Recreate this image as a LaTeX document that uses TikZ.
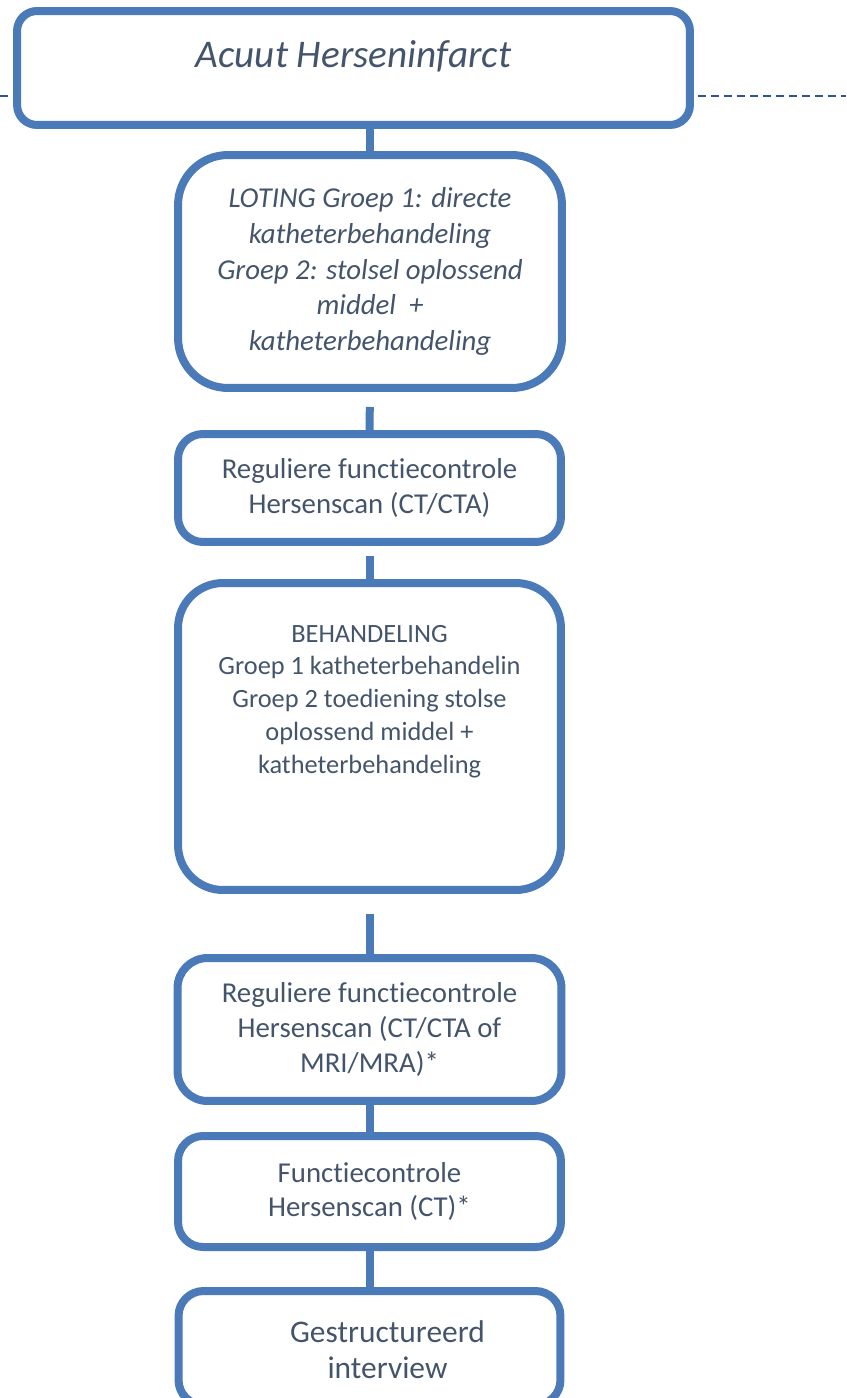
\documentclass[tikz,border=0pt]{standalone}
\usepackage{fontspec}
\setmainfont[Ligatures={NoCommon}]{Carlito}
\usepackage{tikz}
\usepackage{xcolor}
\definecolor{kaderblauw}{RGB}{74,122,183}
\definecolor{stippelblauw}{RGB}{47,84,150}
\definecolor{tekstgrijs}{RGB}{68,84,106}

\begin{document}
\begin{tikzpicture}[x=0.02cm,y=-0.02cm,
  blok/.style={draw=kaderblauw,line width=0.16cm,rectangle,minimum width=7.66cm,
    inner sep=0pt,align=center,text=tekstgrijs},
  gewoon/.style={font=\fontsize{16.4}{19.8}\selectfont},
  schuin/.style={font=\fontsize{16.4}{20.4}\selectfont\itshape},
  opschrift/.style={text=tekstgrijs,align=center},
  lijn/.style={draw=kaderblauw,line width=0.16cm},
  stippel/.style={draw=stippelblauw,line width=0.05cm,dash pattern=on 0.16cm off 0.1cm}]
  \path[use as bounding box,clip] (0,0) rectangle (846,1398);

  \node (ah) [blok,minimum width=13.46cm,minimum height=2.28cm,rounded corners=0.4cm,
    label={[opschrift,font=\fontsize{22.3}{26}\selectfont\itshape,yshift=0.24cm]center:Acuut Herseninfarct}]
    at (353.5,68) {};
  \node (lot) [blok,schuin,minimum width=7.68cm,minimum height=4.66cm,rounded corners=1cm]
    at (370,271.5)
    {LOTING Groep 1: directe\\katheterbehandeling\\Groep 2: stolsel oplossend\\middel\ \ +\\katheterbehandeling};
  \node (rf1) [blok,gewoon,minimum height=2.16cm,rounded corners=0.5cm]
    at (369.5,488) {Reguliere functiecontrole\\Hersenscan (CT/CTA)};
  \node (beh) [blok,minimum height=6.14cm,rounded corners=0.9cm,
    label={[opschrift,font=\fontsize{15}{18.7}\selectfont,yshift=0.7cm]center:{BEHANDELING\\Groep 1 katheterbehandelin\\Groep 2 toediening stolse\\oplossend middel +\\katheterbehandeling}}]
    at (369.5,736.5) {};
  \node (rf2) [blok,gewoon,minimum width=7.68cm,minimum height=2.86cm,rounded corners=0.6cm]
    at (369.5,1029.5) {Reguliere functiecontrole\\Hersenscan (CT/CTA of\\MRI/MRA)*};
  \node (fc) [blok,gewoon,minimum height=2.22cm,rounded corners=0.5cm]
    at (369.5,1191.5) {Functiecontrole\\Hersenscan (CT)*};
  \node (gi) [blok,minimum width=7.64cm,minimum height=2.28cm,rounded corners=0.5cm,
    label={[opschrift,font=\fontsize{17.9}{20.4}\selectfont,xshift=0.36cm,yshift=-0.04cm]center:{Gestructureerd\\interview}}]
    at (369.5,1348) {};

  \draw[lijn] (ah.south -| lot.north) -- (lot.north);
  \draw[lijn,shorten <=0.3cm] (lot.south) -- (rf1.north);
  \draw[lijn,shorten <=0.2cm] (rf1.south) -- (beh.north);
  \draw[lijn,shorten <=0.4cm] (beh.south) -- (rf2.north);
  \draw[lijn] (rf2.south) -- (fc.north);
  \draw[lijn] (fc.south) -- (gi.north);

  \coordinate (lr) at (0,96);
  \coordinate (rr) at (846,96);
  \draw[stippel,shorten >=0.08cm] (lr) -- (lr -| ah.west);
  \draw[stippel,shorten <=0.08cm] (ah.east |- rr) -- (rr);
\end{tikzpicture}
\end{document}
